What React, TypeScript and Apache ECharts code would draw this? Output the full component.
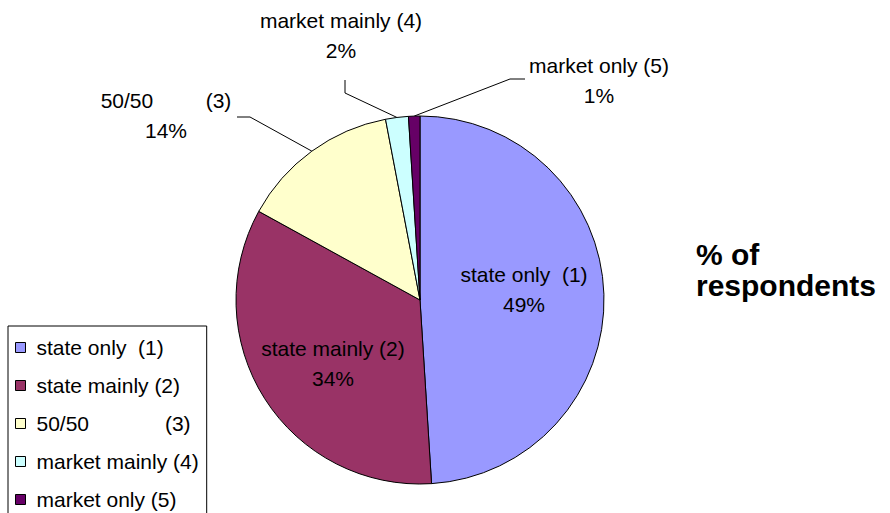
import React, { useEffect, useRef } from "react";
import * as echarts from "echarts";

const categories = [
  "state only  (1)",
  "state mainly (2)",
  "50/50             (3)",
  "market mainly (4)",
  "market only (5)",
];
const values = [49, 34, 14, 2, 1];
const colors = ["#9999FF", "#993366", "#FFFFCC", "#CCFFFF", "#660066"];
const titleText = "% of\nrespondents";

// label anchor positions (centre of each label block) and leader-line bends
const labelPos: [number, number][] = [
  [524, 289],
  [333, 363],
  [166, 115],
  [341, 35],
  [599, 80],
];
const leaderBends: ([number, number][] | null)[] = [
  null,
  null,
  [[250, 117], [237, 117]],
  [[345, 93], [345, 80]],
  [[510, 79], [525, 79]],
];

const FONT = "'Liberation Sans', Arial, Helvetica, sans-serif";

export default function App() {
  const ref = useRef<HTMLDivElement>(null);
  useEffect(() => {
    document.body.style.margin = "0";
    if (!ref.current) return;
    const chart = echarts.init(ref.current, undefined, { renderer: "svg" });
    const data = categories.map((name, i) => ({
      name,
      value: values[i],
      itemStyle: { color: colors[i] },
      label: { position: i < 2 ? "inside" : "outside" },
      labelLine: { show: i >= 2 },
    }));
    chart.setOption({
      animation: false,
      backgroundColor: "#ffffff",
      title: {
        text: titleText,
        left: 696,
        top: 239,
        padding: 0,
        textStyle: {
          fontFamily: FONT,
          fontSize: 30,
          fontWeight: "bold",
          lineHeight: 31,
          color: "#000",
        },
      },
      legend: {
        orient: "vertical",
        left: 8,
        top: 326,
        height: 260,
        padding: [11, 8, 12, 7],
        itemGap: 17,
        itemWidth: 10,
        itemHeight: 10,
        icon: "rect",
        borderColor: "#000",
        borderWidth: 1,
        borderRadius: 0,
        selectedMode: false,
        itemStyle: { borderColor: "#000", borderWidth: 1 },
        textStyle: {
          fontFamily: FONT,
          fontSize: 21,
          color: "#000",
          padding: [0, 0, 0, 6],
        },
      },
      series: [
        {
          type: "pie",
          center: [420, 300],
          radius: 184,
          startAngle: 90,
          clockwise: true,
          avoidLabelOverlap: false,
          silent: true,
          itemStyle: { borderColor: "#000", borderWidth: 1 },
          emphasis: { disabled: true },
          label: {
            show: true,
            fontFamily: FONT,
            fontSize: 21,
            lineHeight: 30,
            color: "#000",
            align: "center",
            formatter: (p: any) =>
              `${String(p.name).replace(/ {4,}/, "         ")}\n${p.value}%`,
          },
          labelLine: {
            show: true,
            lineStyle: { color: "#000", width: 1 },
          },
          labelLayout: (p: any) => {
            const i = p.dataIndex;
            const res: any = {
              x: labelPos[i][0],
              y: labelPos[i][1],
              align: "center",
              verticalAlign: "middle",
            };
            const bends = leaderBends[i];
            if (bends && p.labelLinePoints && p.labelLinePoints[0]) {
              res.labelLinePoints = [p.labelLinePoints[0], bends[0], bends[1]];
            }
            return res;
          },
          data,
        },
      ],
    });
    return () => chart.dispose();
  }, []);
  return (
    <div
      ref={ref}
      style={{ position: "absolute", left: 0, top: 0, width: 890, height: 513 }}
    />
  );
}
